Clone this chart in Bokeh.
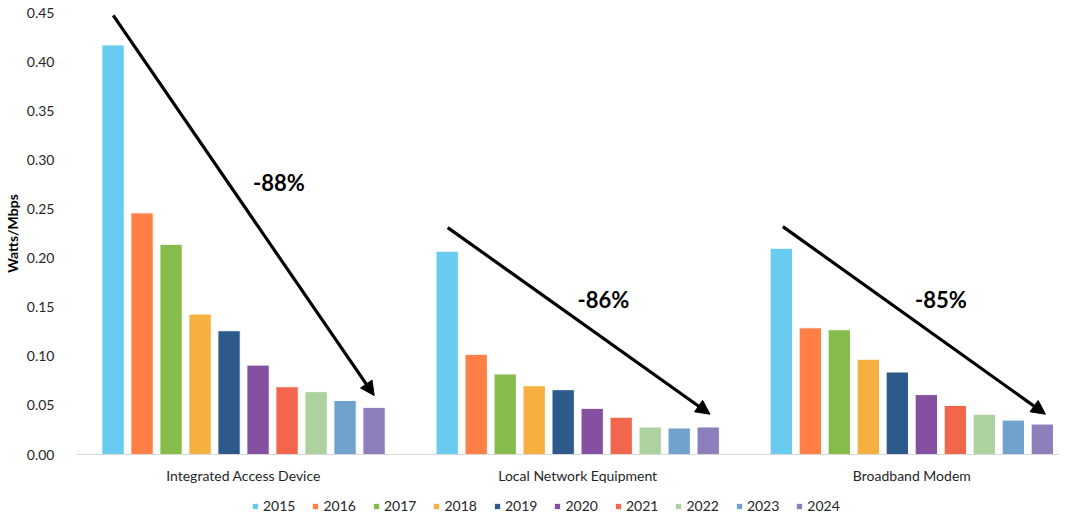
from bokeh.plotting import figure
from bokeh.layouts import column
from bokeh.models import (Range1d, FixedTicker, Legend, LegendItem, Arrow, NormalHead,
                          ColumnDataSource, Label)
from bokeh.embed import file_html
from bokeh.resources import INLINE

# ---------------- data ----------------
categories = ["Integrated Access Device", "Local Network Equipment", "Broadband Modem"]
years = ["2015", "2016", "2017", "2018", "2019", "2020", "2021", "2022", "2023", "2024"]

v2015 = [0.417, 0.207, 0.210]
v2016 = [0.246, 0.102, 0.129]
v2017 = [0.214, 0.082, 0.127]
v2018 = [0.143, 0.070, 0.097]
v2019 = [0.126, 0.066, 0.084]
v2020 = [0.091, 0.047, 0.061]
v2021 = [0.069, 0.038, 0.050]
v2022 = [0.064, 0.028, 0.041]
v2023 = [0.055, 0.027, 0.035]
v2024 = [0.048, 0.028, 0.031]
series = [v2015, v2016, v2017, v2018, v2019, v2020, v2021, v2022, v2023, v2024]

colors = ["#6ACBF1", "#FF7F47", "#86BC4B", "#F6B042", "#2C5A8B",
          "#85509F", "#F2664D", "#ADD29F", "#71A2CD", "#8D7FBB"]

y_ticks = [0.00, 0.05, 0.10, 0.15, 0.20, 0.25, 0.30, 0.35, 0.40, 0.45]

# trend annotations (arrow from / to, in axis units) and their labels
change_labels = ["-88%", "-86%", "-85%"]
arrow_x0 = [0.110, 1.111, 2.114]
arrow_y0 = [0.447, 0.231, 0.232]
arrow_x1 = [0.891, 1.896, 2.900]
arrow_y1 = [0.060, 0.041, 0.041]
label_x = [0.606, 1.577, 2.587]
label_y = [0.2765, 0.158, 0.158]

# ---------------- figure ----------------
FONT = "Lato"
TXT = "#262626"

p = figure(width=1059, height=495, output_backend="svg", toolbar_location=None,
           x_range=Range1d(0, 2.942), y_range=Range1d(0, 0.45),
           min_border_left=69, min_border_right=0, min_border_top=12, min_border_bottom=41)
p.outline_line_color = None
p.xgrid.visible = False
p.ygrid.visible = False
p.background_fill_color = "white"
p.border_fill_color = "white"

pitch = 0.0868
bar_w = 0.0669
centers = [i + 0.5 for i in range(len(categories))]

for k, (yr, vals, col) in enumerate(zip(years, series, colors)):
    off = (k - (len(years) - 1) / 2) * pitch
    src = ColumnDataSource(dict(x=[c + off for c in centers], top=vals))
    p.vbar(x="x", top="top", width=bar_w, bottom=0, source=src,
           fill_color=col, line_color="white", line_width=1)

# arrows and labels
for x0, y0, x1, y1, lab, lx, ly in zip(arrow_x0, arrow_y0, arrow_x1, arrow_y1,
                                        change_labels, label_x, label_y):
    p.add_layout(Arrow(x_start=x0, y_start=y0, x_end=x1, y_end=y1,
                       line_color="black", line_width=3.2,
                       end=NormalHead(size=14, fill_color="black", line_color="black", line_width=1)))
    p.add_layout(Label(x=lx, y=ly, text=lab, text_font=FONT, text_font_style="bold",
                       text_font_size="22px", text_color="black",
                       text_align="center", text_baseline="middle"))

# y axis
ya = p.yaxis[0]
ya.ticker = FixedTicker(ticks=y_ticks)
ya.major_label_overrides = {t: f"{t:.2f}" for t in y_ticks}
ya.axis_line_color = None
ya.major_tick_line_color = None
ya.minor_tick_line_color = None
ya.major_label_standoff = 16
ya.major_label_text_font = FONT
ya.major_label_text_font_size = "14px"
ya.major_label_text_color = TXT
ya.axis_label = "Watts/Mbps"
ya.axis_label_text_font = FONT
ya.axis_label_text_font_size = "14px"
ya.axis_label_text_font_style = "bold"
ya.axis_label_text_color = "black"
ya.axis_label_standoff = 3

# x axis
xa = p.xaxis[0]
xa.ticker = FixedTicker(ticks=centers)
xa.major_label_overrides = {c: name for c, name in zip(centers, categories)}
xa.axis_line_color = "#D9D9D9"
xa.axis_line_width = 1
xa.major_tick_line_color = None
xa.minor_tick_line_color = None
xa.major_label_standoff = 6
xa.major_label_text_font = FONT
xa.major_label_text_font_size = "14px"
xa.major_label_text_color = TXT

# ---------------- legend strip ----------------
lg = figure(width=1059, height=20, output_backend="svg", toolbar_location=None,
            x_range=Range1d(0, 1), y_range=Range1d(1, 2),
            x_axis_type=None, y_axis_type=None, min_border=0)
lg.outline_line_color = None
lg.xgrid.visible = False
lg.ygrid.visible = False
swatches = []
for yr, col in zip(years, colors):
    # swatch renderers sit outside the strip's visible range; only their legend glyphs show
    swatches.append(lg.vbar(x=[0.5], top=[0], bottom=[0], width=0.01,
                            fill_color=col, line_color="white", line_width=1))

legend = Legend(items=[LegendItem(label=yr, renderers=[r]) for yr, r in zip(years, swatches)],
                orientation="horizontal", location=(175, 1),
                glyph_width=8, glyph_height=8, label_standoff=4, spacing=16,
                label_text_font=FONT, label_text_font_size="14px", label_text_color=TXT,
                label_height=8, padding=0, margin=0,
                border_line_color=None, background_fill_alpha=0)
lg.add_layout(legend, "center")

layout = column(p, lg, spacing=0)
open("out.html", "w").write(file_html(layout, INLINE))
